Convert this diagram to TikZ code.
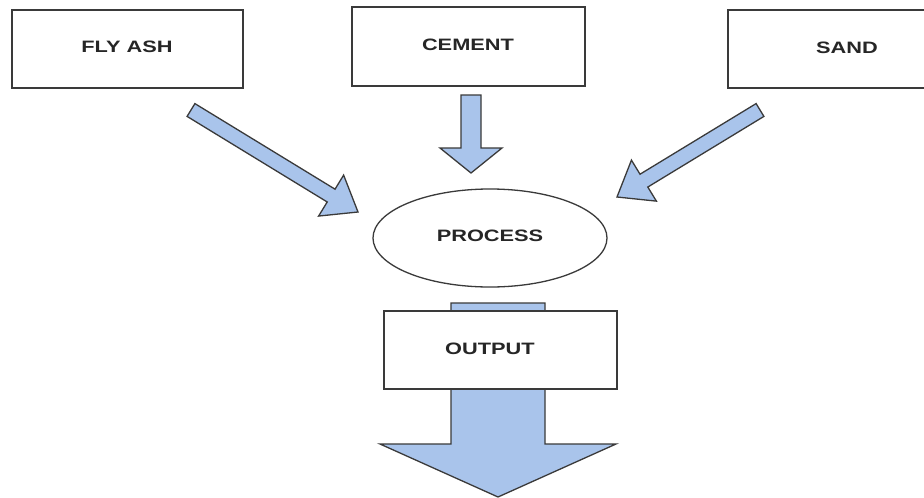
\documentclass[tikz,border=0pt]{standalone}
\usepackage{fontspec}
\setmainfont{Liberation Sans}
\usetikzlibrary{calc,shapes.geometric}
\definecolor{arrfill}{HTML}{A9C4EB}
\definecolor{edgegray}{HTML}{3A3A3A}
\definecolor{txtgray}{HTML}{262626}
\tikzset{
  boxstyle/.style={draw=edgegray, line width=1.6pt, fill=white, inner sep=0pt},
  ellstyle/.style={draw=edgegray, line width=1.3pt, fill=white, ellipse, inner sep=0pt},
  arrstyle/.style={fill=arrfill, draw=edgegray, line width=1.3pt, line join=miter},
  lbl/.style={text=txtgray, font=\fontsize{16.5}{18}\selectfont\bfseries}
}
\newcommand\lbltext[1]{\scalebox{1.32}[1]{#1}}
% #1 start coord name, #2 end coord name, #3 shaft half width, #4 head half width, #5 head length
\newcommand\blockarr[5]{%
  \coordinate (hb) at ($(#2)!#5!(#1)$);
  \draw[arrstyle] ($(#1)!#3!90:(#2)$) -- ($(hb)!#3!90:(#2)$) -- ($(hb)!#4!90:(#2)$)
     -- (#2) -- ($(hb)!#4!-90:(#2)$) -- ($(hb)!#3!-90:(#2)$) -- ($(#1)!#3!-90:(#2)$) -- cycle;
}
\begin{document}
\begin{tikzpicture}[x=1pt,y=-1pt]
\useasboundingbox (0,0) rectangle (924,498);
\clip (0,0) rectangle (924,498);
\fill[white] (0,0) rectangle (924,498);

% coordinates for the block arrows
\coordinate (flyS) at (191,110);
\coordinate (flyE) at (358,212);
\coordinate (cemS) at (471,95);
\coordinate (cemE) at (471,173);
\coordinate (sandS) at (760,110);
\coordinate (sandE) at (617,197);
\coordinate (outS) at (498,303);
\coordinate (outE) at (498,497);

% output arrow (behind the output box)
\blockarr{outS}{outE}{47pt}{118pt}{53pt}

% source boxes
\node[boxstyle, minimum width=231pt, minimum height=78pt] (fly) at (127.5,49) {};
\node[lbl] at (127,47) {\lbltext{FLY ASH}};
\node[boxstyle, minimum width=233pt, minimum height=79pt] (cem) at (468.5,46.5) {};
\node[lbl] at (468,45) {\lbltext{CEMENT}};
\node[boxstyle, minimum width=230pt, minimum height=78pt] (sand) at (843,49) {};
\node[lbl] at (847,48) {\lbltext{SAND}};

% input arrows
\blockarr{flyS}{flyE}{7.5pt}{24pt}{31.5pt}
\blockarr{cemS}{cemE}{10pt}{31pt}{25pt}
\blockarr{sandS}{sandE}{7.5pt}{24pt}{31.5pt}

% process
\node[ellstyle, minimum width=234pt, minimum height=98pt] (proc) at (490,238) {};
\node[lbl] at (490,236) {\lbltext{PROCESS}};

% output
\node[boxstyle, minimum width=233pt, minimum height=78pt] (out) at (500.5,350) {};
\node[lbl] at (490,349) {\lbltext{OUTPUT}};
\end{tikzpicture}
\end{document}
